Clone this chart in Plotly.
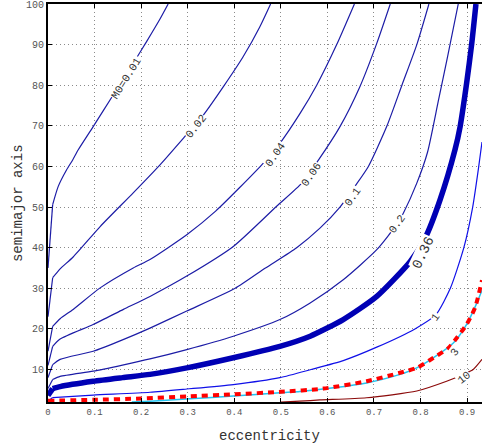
import plotly.graph_objects as go

# ---- contour curves: eccentricity (e) and semimajor axis (a)
e_001 = [0, 0.010, 0.022, 0.040, 0.053, 0.065, 0.097, 0.140, 0.183, 0.212, 0.2405, 0.258]
a_001 = [35, 50.6, 55.1, 59.2, 61.6, 64.1, 69.8, 77.6, 85.4, 90.8, 96.3, 100]

e_002 = [0, 0.010, 0.026, 0.054, 0.112, 0.183, 0.2405, 0.294, 0.334, 0.377, 0.419, 0.455, 0.478]
a_002 = [23, 32.6, 34.8, 37.7, 45.2, 53.5, 60.4, 67.4, 72.7, 79.7, 87.0, 94.4, 100]

e_004 = [0, 0.010, 0.026, 0.054, 0.112, 0.183, 0.219, 0.298, 0.360, 0.459, 0.498, 0.541, 0.577, 0.620, 0.658]
a_004 = [14.5, 20.6, 22.5, 24.8, 30.1, 35.0, 37.1, 43.2, 49.0, 60.4, 65.7, 73.0, 80, 90, 100]

e_006 = [0, 0.010, 0.026, 0.097, 0.162, 0.219, 0.298, 0.398, 0.491, 0.545, 0.581, 0.627, 0.670, 0.706, 0.735]
a_006 = [11, 15.7, 17.5, 21.1, 24.8, 28.0, 33.0, 40.3, 50.2, 55.9, 61.6, 69.8, 79.7, 90.3, 100]

e_01 = [0, 0.010, 0.026, 0.097, 0.160, 0.219, 0.298, 0.402, 0.467, 0.534, 0.584, 0.627, 0.659, 0.688, 0.728, 0.760, 0.792, 0.818]
a_01 = [8, 11.2, 12.5, 14.5, 17.3, 20.2, 24.4, 30, 35, 40, 44.8, 50, 55.1, 60, 70, 80, 90, 100]

e_02 = [0, 0.010, 0.026, 0.097, 0.160, 0.219, 0.298, 0.398, 0.498, 0.563, 0.634, 0.706, 0.750, 0.763, 0.792, 0.815, 0.838, 0.858, 0.881]
a_02 = [5.3, 7.55, 8.3, 9.6, 11.1, 12.6, 14.9, 18.2, 22.3, 26.4, 32.1, 39.5, 45.9, 48.5, 55.9, 63.5, 76, 87, 100]

e_036 = [0, 0.010, 0.026, 0.097, 0.160, 0.219, 0.298, 0.398, 0.498, 0.563, 0.634, 0.706, 0.778, 0.810, 0.842, 0.874, 0.885, 0.899, 0.910, 0.919]
a_036 = [3.6, 5.3, 5.8, 7.1, 8.0, 8.8, 10.4, 12.9, 15.7, 18.2, 22.3, 28.0, 36.6, 42.4, 51.8, 64.1, 69.8, 80.5, 90.3, 100]

e_1 = [0, 0.010, 0.097, 0.219, 0.298, 0.398, 0.498, 0.565, 0.634, 0.706, 0.788, 0.833, 0.864, 0.893, 0.912, 0.925, 0.932]
a_1 = [2.2, 3.1, 3.7, 4.4, 5.2, 6.3, 8.0, 10, 12.2, 15.5, 20, 23.5, 30, 40, 50, 60, 66]

e_3 = [0.18, 0.219, 0.305, 0.398, 0.498, 0.541, 0.613, 0.684, 0.756, 0.792, 0.828, 0.871, 0.899, 0.921, 0.932]
a_3 = [2.0, 2.2, 2.8, 3.45, 4.3, 4.6, 5.5, 6.7, 8.8, 10.4, 12.9, 16.6, 21.1, 26.4, 29.5]

e_ref = [0, 0.1, 0.2, 0.3, 0.4, 0.5, 0.591, 0.684, 0.756, 0.792, 0.828, 0.860, 0.878, 0.899, 0.917, 0.932]
a_ref = [2.3, 2.55, 2.85, 3.4, 3.9, 4.5, 5.3, 7.1, 9.2, 10.4, 12.9, 15.3, 17.8, 21.1, 25.2, 32]

e_10 = [0.50, 0.541, 0.584, 0.684, 0.792, 0.856, 0.894, 0.913, 0.932]
a_10 = [2.0, 2.2, 2.5, 3.05, 4.7, 7.1, 8.9, 10.0, 12.5]

# contour labels: text, e, a, angle
lab_text = ["M0=0.01", "0.02", "0.04", "0.06", "0.1", "0.2", "0.36", "1", "3", "10"]
lab_e = [0.169, 0.317, 0.488, 0.565, 0.655, 0.750, 0.805, 0.833, 0.874, 0.894]
lab_a = [81.8, 69.8, 62.9, 58.0, 52.5, 45.9, 38.8, 23.0, 14.4, 7.8]
lab_ang = [-58, -52, -56, -55, -55, -55, -65, -55, -55, -38]
lab_size = [11, 11, 11, 11, 11, 11, 14, 11, 11, 11]

x_ticks = [0, 0.1, 0.2, 0.3, 0.4, 0.5, 0.6, 0.7, 0.8, 0.9]
x_ticktext = ["0", "0.1", "0.2", "0.3", "0.4", "0.5", "0.6", "0.7", "0.8", "0.9"]
y_ticks = [10, 20, 30, 40, 50, 60, 70, 80, 90, 100]

FONT = "Liberation Mono, DejaVu Sans Mono, monospace"
thin = "#1c1ca6"
SPL = dict(shape="spline", smoothing=0.6)

fig = go.Figure()


def add_curve(ex, ay, line):
    # steep segment near e=0 drawn straight, the rest smoothed
    fig.add_trace(go.Scatter(x=ex[:2], y=ay[:2], mode="lines",
                             line=dict(color=line["color"], width=line["width"]),
                             showlegend=False, hoverinfo="skip"))
    fig.add_trace(go.Scatter(x=ex[1:], y=ay[1:], mode="lines", line=dict(**line, **SPL),
                             showlegend=False, hoverinfo="skip"))


for ex, ay in [(e_001, a_001), (e_002, a_002), (e_004, a_004), (e_006, a_006), (e_01, a_01), (e_02, a_02)]:
    add_curve(ex, ay, dict(color=thin, width=1.2))
add_curve(e_036, a_036, dict(color="#0000b4", width=5.5))
add_curve(e_1, a_1, dict(color="#1010e8", width=1.2))
fig.add_trace(go.Scatter(x=e_3, y=a_3, mode="lines", line=dict(color="#22c4f0", width=1.5, **SPL),
                         showlegend=False, hoverinfo="skip"))
fig.add_trace(go.Scatter(x=e_ref, y=a_ref, mode="lines", line=dict(color="#ff0000", width=4, dash="6px,5px", **SPL),
                         showlegend=False, hoverinfo="skip"))
fig.add_trace(go.Scatter(x=e_10, y=a_10, mode="lines", line=dict(color="#8b0a0a", width=1.2, **SPL),
                         showlegend=False, hoverinfo="skip"))

for t, ex, ay, ang, sz in zip(lab_text, lab_e, lab_a, lab_ang, lab_size):
    fig.add_annotation(x=ex, y=ay, text=t, showarrow=False, textangle=ang,
                       font=dict(family=FONT, size=sz, color="#333333"),
                       bgcolor="white", borderpad=0)

# axis titles placed as annotations
fig.add_annotation(xref="paper", yref="paper", x=0.511, y=-0.085, text="eccentricity", showarrow=False,
                   font=dict(family=FONT, size=14, color="#333333"), yanchor="middle")
fig.add_annotation(xref="paper", yref="paper", x=-0.069, y=0.5, text="semimajor axis", showarrow=False,
                   textangle=-90, font=dict(family=FONT, size=14, color="#333333"), xanchor="center")

fig.update_layout(
    width=482, height=448,
    margin=dict(l=48, r=0, t=4, b=46),
    plot_bgcolor="white", paper_bgcolor="white",
    font=dict(family=FONT, color="#555555"),
    hovermode=False,
)
fig.update_xaxes(range=[0, 0.932], tickvals=x_ticks, ticktext=x_ticktext, automargin=False,
                 showgrid=True, gridcolor="#8a8a8a", griddash="1px,3px", gridwidth=1,
                 showline=True, linecolor="black", linewidth=2, mirror="ticks",
                 ticks="inside", ticklen=4, tickcolor="black", zeroline=False,
                 ticklabeloverflow="allow",
                 tickfont=dict(family=FONT, size=9, color="#555555"))
fig.update_yaxes(range=[2, 100], tickvals=y_ticks, automargin=False,
                 showgrid=True, gridcolor="#8a8a8a", griddash="1px,3px", gridwidth=1,
                 showline=True, linecolor="black", linewidth=2, mirror=False,
                 ticks="inside", ticklen=4, tickcolor="black", zeroline=False,
                 ticklabeloverflow="allow",
                 tickfont=dict(family=FONT, size=10, color="#555555"))

fig.write_html("out.html", config={"displayModeBar": False},
               post_script="document.body.style.margin='0';document.body.style.overflow='hidden';")
